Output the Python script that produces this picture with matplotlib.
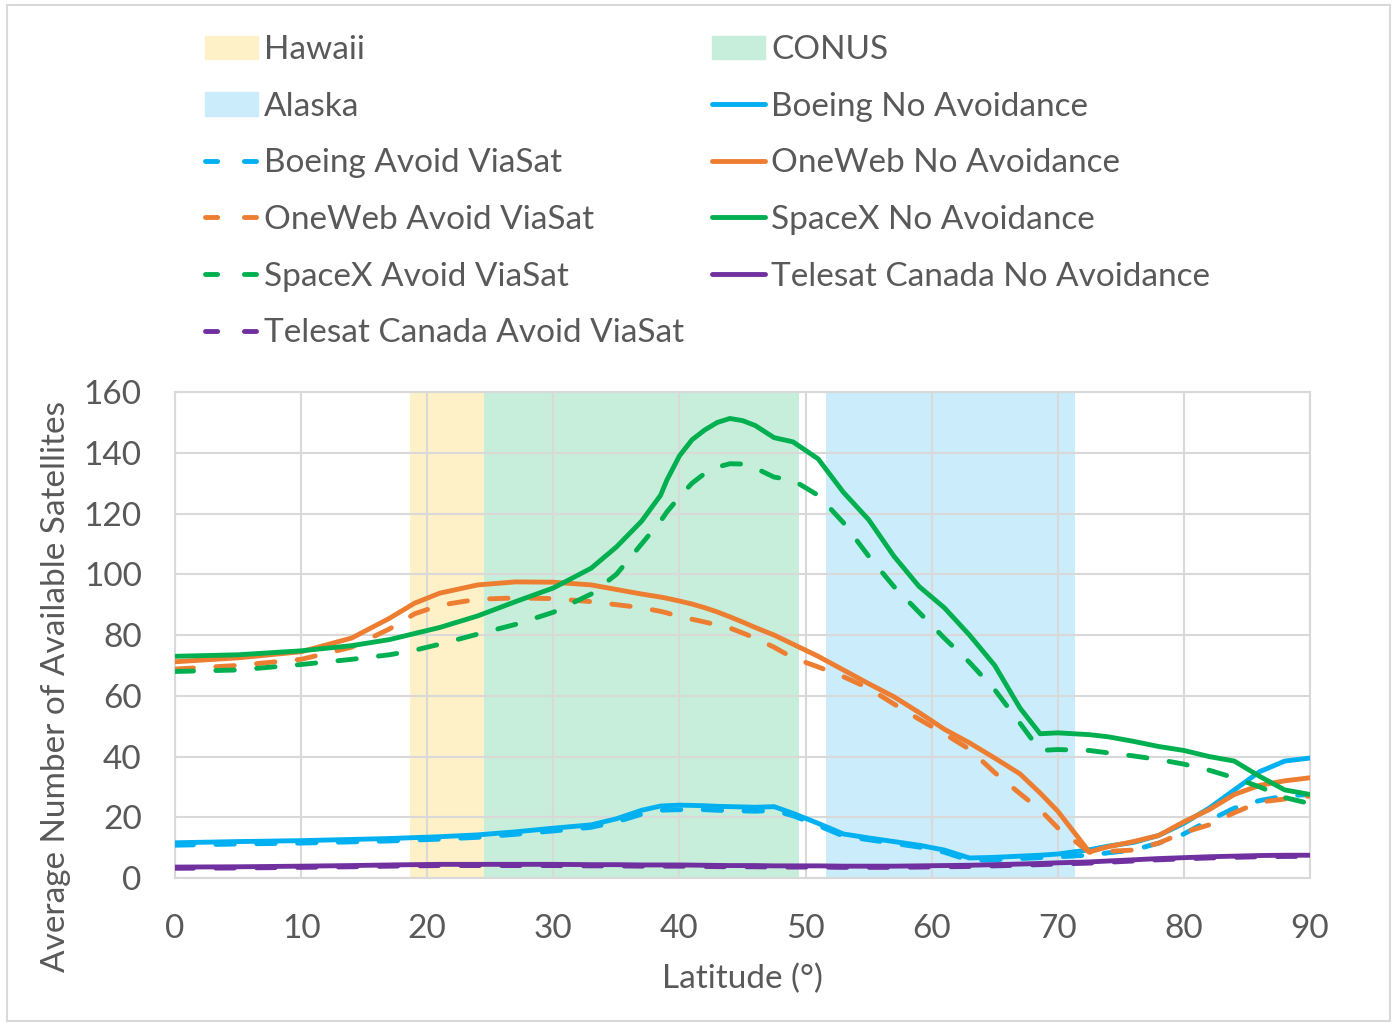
import matplotlib.pyplot as plt
from matplotlib.patches import Patch, Rectangle
from matplotlib.lines import Line2D

plt.rcParams['font.family'] = ['Lato', 'DejaVu Sans']

# Latitude samples (deg)
lat = [0, 5, 10, 14, 17, 19, 21, 24, 27, 30, 33, 35, 37, 38.5, 39, 40, 41, 42, 43, 44, 45, 46, 47.5, 49,
       51, 53, 55, 57, 59, 61, 63, 65, 67, 68.6, 70, 72.5, 74, 76, 78, 80, 82, 84, 86, 88, 90]

spacex_no = [73, 73.5, 74.8, 76.5, 78.5, 80.5, 82.5, 86.3, 91, 95.5, 102, 109, 117.5, 126, 131, 139,
             144.3, 147.5, 150, 151.3, 150.6, 149, 145, 143.6, 138, 127, 118, 106, 96, 89, 80, 70, 56,
             47.5, 47.8, 47.2, 46.5, 45, 43.3, 42, 40, 38.5, 33.5, 29, 27.5]
spacex_avoid = [68, 68.5, 70.3, 72, 73.5, 75, 77, 80.3, 83.5, 87.5, 93.5, 100, 110, 117.5, 120.5, 125.5,
                130, 133.2, 135.3, 136.4, 136.3, 135, 132, 131, 126, 117, 106, 96, 87.5, 79, 71, 62, 51,
                42, 42.3, 42, 41.2, 40.2, 39, 37.5, 35.5, 33, 30, 26.5, 24.5]
oneweb_no = [71.2, 72.5, 74.5, 79, 85.5, 90.5, 93.8, 96.5, 97.5, 97.4, 96.5, 95, 93.5, 92.5, 92.1, 91.2,
             90.2, 89, 87.6, 86, 84.3, 82.5, 80, 77, 73, 68.5, 64, 59.7, 54.5, 49, 44.5, 39.5, 34.3, 28,
             22, 8.6, 10.3, 12, 14, 18.5, 22.5, 27.5, 30.5, 32, 33]
oneweb_avoid = [68.8, 70, 72, 76, 82, 87, 89.8, 91.8, 92.2, 92, 91, 90, 89, 87.8, 87.3, 86, 85.2, 84.3,
                83.3, 82.3, 80.7, 79, 76, 72.5, 69.5, 66.3, 62.5, 57.3, 52.3, 47.5, 42.4, 34.7, 27.8,
                22.5, 16.5, 8.5, 8.8, 9.2, 11.5, 15, 17.5, 21.5, 25, 26, 27]
boeing_no = [11.6, 12, 12.3, 12.7, 13, 13.3, 13.6, 14.2, 15.2, 16.4, 17.5, 19.5, 22.3, 23.7, 23.8, 24,
             23.9, 23.8, 23.6, 23.5, 23.4, 23.3, 23.5, 21.3, 18, 14.5, 13.2, 12, 10.8, 9.2, 6.6, 6.8,
             7.2, 7.5, 7.9, 9.3, 10.5, 11.7, 14, 18, 23, 29, 35, 38.5, 39.5]
boeing_avoid = [10.8, 11.2, 11.5, 11.9, 12.2, 12.5, 12.8, 13.4, 14.4, 15.5, 16.7, 18.5, 21, 22.3, 22.4,
                22.5, 22.5, 22.5, 22.3, 22.2, 22.1, 22, 22.2, 20.5, 17.3, 13.8, 12.6, 11.4, 10.2, 8.5,
                5.8, 6, 6.4, 6.7, 7, 7.5, 8.3, 9.2, 11.5, 14.5, 19, 23, 25.5, 27, 27.5]
telesat_no = [3.6, 3.7, 3.9, 4.1, 4.3, 4.4, 4.5, 4.5, 4.5, 4.5, 4.4, 4.4, 4.3, 4.3, 4.3, 4.3, 4.25, 4.2,
              4.15, 4.1, 4.1, 4.1, 4, 4, 4, 3.9, 3.9, 3.9, 4, 4.1, 4.2, 4.4, 4.6, 4.8, 5, 5.3, 5.6, 6,
              6.4, 6.7, 7, 7.2, 7.4, 7.5, 7.5]
telesat_avoid = [3.2, 3.3, 3.5, 3.7, 3.9, 4, 4.1, 4.1, 4.1, 4.1, 4, 4, 3.9, 3.9, 3.9, 3.9, 3.85, 3.8,
                 3.75, 3.7, 3.7, 3.7, 3.6, 3.6, 3.6, 3.5, 3.5, 3.5, 3.6, 3.7, 3.8, 4, 4.2, 4.4, 4.6,
                 4.9, 5.2, 5.6, 6, 6.3, 6.6, 6.8, 7, 7.1, 7.1]

# Shaded regions (latitude ranges)
regions = [("Hawaii", 18.6, 24.5, "#FEF0C7"),
           ("CONUS", 24.5, 49.5, "#C7EEDA"),
           ("Alaska", 51.6, 71.4, "#CBECFB")]

BLUE, ORANGE, GREEN, PURPLE = "#00B0F0", "#ED7D31", "#00B050", "#7030A0"
TXT = "#595959"
GRID = "#D9D9D9"
FS = 24
LW = 3.5
DASH = (3.8, 4.6)

fig = plt.figure(figsize=(13.97, 10.25), dpi=100)
ax = fig.add_axes([0.1253, 0.1434, 0.8124, 0.4741])

for name, x0, x1, c in regions:
    ax.axvspan(x0, x1, color=c, lw=0, zorder=0.2)

series = [
    (boeing_no, BLUE, "-"), (boeing_avoid, BLUE, "--"),
    (telesat_no, PURPLE, "-"), (telesat_avoid, PURPLE, "--"),
    (oneweb_no, ORANGE, "-"), (oneweb_avoid, ORANGE, "--"),
    (spacex_no, GREEN, "-"), (spacex_avoid, GREEN, "--"),
]
for vals, c, ls in series:
    if ls == "-":
        ax.plot(lat, vals, color=c, lw=LW, solid_capstyle="round", solid_joinstyle="round", zorder=3)
    else:
        ax.plot(lat, vals, color=c, lw=LW, dashes=DASH, dash_capstyle="round",
                dash_joinstyle="round", zorder=3)

ax.set_xlim(0, 90)
ax.set_ylim(0, 160)
ax.set_xticks(range(0, 91, 10))
ax.set_yticks(range(0, 161, 20))
ax.set_axisbelow(True)
ax.grid(True, color=GRID, lw=1.5)
for s in ax.spines.values():
    s.set_color(GRID)
    s.set_linewidth(1.5)
ax.tick_params(length=0, labelsize=FS, labelcolor=TXT)
ax.tick_params(axis="x", pad=26)
ax.tick_params(axis="y", pad=24)
ax.set_xlabel("Latitude (°)", fontsize=FS, color=TXT, labelpad=14)
ax.set_ylabel("Average Number of Available Satellites", fontsize=FS, color=TXT)
ax.yaxis.set_label_coords(-0.092, 0.395)

# Legend, two columns
def line_h(c, dashed):
    if dashed:
        return Line2D([], [], color=c, lw=LW, dashes=(2.5, 5.5), dash_capstyle="round")
    return Line2D([], [], color=c, lw=LW, solid_capstyle="round")

col1 = [(Patch(color="#FEF0C7"), "Hawaii"), (Patch(color="#CBECFB"), "Alaska"),
        (line_h(BLUE, True), "Boeing Avoid ViaSat"), (line_h(ORANGE, True), "OneWeb Avoid ViaSat"),
        (line_h(GREEN, True), "SpaceX Avoid ViaSat"), (line_h(PURPLE, True), "Telesat Canada Avoid ViaSat")]
col2 = [(Patch(color="#C7EEDA"), "CONUS"), (line_h(BLUE, False), "Boeing No Avoidance"),
        (line_h(ORANGE, False), "OneWeb No Avoidance"), (line_h(GREEN, False), "SpaceX No Avoidance"),
        (line_h(PURPLE, False), "Telesat Canada No Avoidance")]

for items, x in [(col1, 205), (col2, 712)]:
    leg = fig.legend([h for h, _ in items], [t for _, t in items], loc="upper left",
                     bbox_to_anchor=(x / 1397, 1 - 35 / 1025), frameon=False, fontsize=FS,
                     handlelength=1.6, handletextpad=0.18, labelspacing=0.8, borderpad=0,
                     borderaxespad=0, labelcolor=TXT)

fig.patches.append(Rectangle((0.005, 0.004), 0.99, 0.991, transform=fig.transFigure,
                             fill=False, edgecolor=GRID, lw=1.5))

fig.savefig("out.png", dpi=100)
